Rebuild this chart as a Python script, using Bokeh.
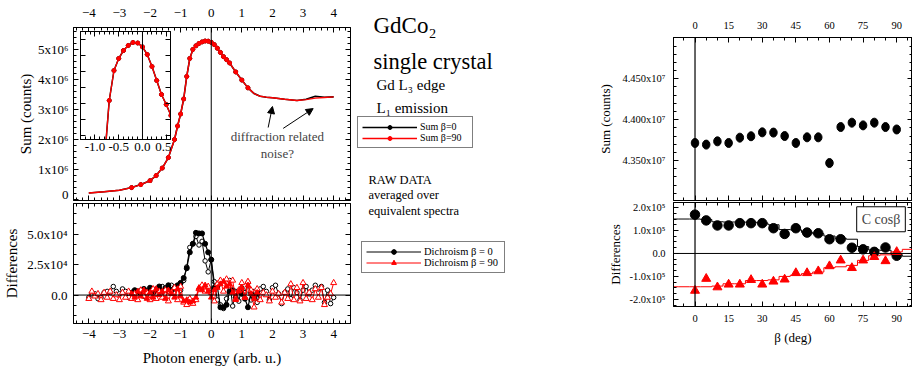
import numpy as np
from bokeh.plotting import figure
from bokeh.layouts import column, row
from bokeh.models import (Range1d, LinearAxis, FixedTicker, Span, Legend, LegendItem,
                          Label, Arrow, NormalHead, ColumnDataSource, CDSView, BooleanFilter,
                          CustomJSTickFormatter)
from bokeh.embed import file_html
from bokeh.resources import INLINE

FONT = "Liberation Serif"

# ---------------- data : left panel (sum spectra, units 1e6 counts) ----------------
energy = [-4.0, -3.5, -3.0, -2.6, -2.3, -2.0, -1.8, -1.6, -1.4, -1.2,
          -1.1, -1.0, -0.9, -0.8, -0.7, -0.6, -0.5, -0.4, -0.3, -0.2,
          -0.1, 0.0, 0.1, 0.2, 0.3, 0.4, 0.5, 0.6, 0.8, 1.0,
          1.2, 1.4, 1.6, 1.8, 2.0, 2.4, 2.8, 3.1, 3.4, 3.7, 4.0]
sum_b0 = [0.22, 0.26, 0.31, 0.40, 0.50, 0.63, 0.80, 1.05, 1.40, 2.00,
          2.45, 2.85, 3.35, 4.10, 4.70, 5.00, 5.12, 5.20, 5.25, 5.28,
          5.275, 5.236, 5.16, 5.04, 4.90, 4.76, 4.66, 4.55, 4.25, 3.98,
          3.72, 3.53, 3.44, 3.41, 3.39, 3.34, 3.30, 3.34, 3.44, 3.41, 3.42]
sum_b90 = [0.22, 0.26, 0.31, 0.40, 0.50, 0.63, 0.80, 1.05, 1.40, 2.00,
           2.45, 2.85, 3.35, 4.10, 4.70, 5.00, 5.12, 5.20, 5.25, 5.28,
           5.275, 5.236, 5.16, 5.04, 4.90, 4.76, 4.66, 4.55, 4.25, 3.98,
           3.72, 3.53, 3.44, 3.41, 3.39, 3.34, 3.30, 3.33, 3.38, 3.40, 3.42]

# ---------------- data : dichroism (units 1e4 counts) ----------------
dich_x = [-4.0, -3.9, -3.8, -3.7, -3.6, -3.5, -3.4, -3.3, -3.2, -3.1,
          -3.0, -2.9, -2.8, -2.7, -2.6, -2.5, -2.4, -2.3, -2.2, -2.1,
          -2.0, -1.9, -1.8, -1.7, -1.6, -1.5, -1.4, -1.3, -1.2, -1.1,
          -1.0, -0.9, -0.8, -0.7, -0.6, -0.5, -0.4, -0.3, -0.2, -0.1,
          0.0, 0.1, 0.2, 0.3, 0.4, 0.5, 0.6, 0.7, 0.8, 0.9,
          1.0, 1.1, 1.2, 1.3, 1.4, 1.5, 1.6, 1.7, 1.8, 1.9,
          2.0, 2.1, 2.2, 2.3, 2.4, 2.5, 2.6, 2.7, 2.8, 2.9,
          3.0, 3.1, 3.2, 3.3, 3.4, 3.5, 3.6, 3.7, 3.8, 3.9, 4.0]
dich_b0_open = [-0.2, 0.1, 0.1, -0.3, -0.2, 0.2, 0.3, 0.2, 0.7, 0.3,
                0.1, 0.5, 0.3, -0.2, 0.2, 0.3, 0.0, 0.4, -0.1, 0.3,
                0.4, 0.2, 0.5, 0.3, 0.7, 0.6, 0.3, 0.8, 0.5, 0.6,
                0.4, 1.2, 2.3, 3.9, 4.2, 4.8, 4.1, 4.4, 2.8, 1.9,
                2.9, 1.1, -0.4, -0.8, -1.1, -0.3, 1.2, -0.9, 0.3, -0.5,
                0.6, 0.2, 1.0, -0.4, 0.3, -0.6, 0.5, 0.7, 0.3, -0.4,
                0.6, 0.8, 0.1, -0.7, 0.2, 0.5, -0.3, 0.6, 0.2, -0.4,
                0.4, 0.7, 0.1, 0.4, 0.8, 0.5, 0.7, -0.6, 0.4, -0.7, -0.2]
dich_b90_open = [-0.3, 0.3, -0.1, 0.1, -0.4, 0.2, -0.2, 0.3, -0.3, 0.0,
                 -0.4, 0.2, -0.2, 0.3, -0.3, 0.1, -0.4, 0.4, -0.1, 0.2,
                 -0.4, 0.5, -0.3, 0.3, -0.2, 0.4, -0.5, 0.2, 0.6, -0.4,
                 0.7, -0.6, -0.8, -0.3, -0.7, -0.4, 0.5, 0.8, 0.3, 0.7,
                 0.2, -0.5, 0.9, 1.2, 0.3, 1.3, 0.8, 1.2, -0.3, 0.4,
                 1.0, -0.2, 1.1, 0.4, -1.0, 0.5, -0.4, 0.2, 0.0, -0.5,
                 0.3, -0.2, 0.1, -0.6, 0.2, -0.3, 0.9, -0.4, 0.6, -0.5,
                 1.0, -0.3, 0.2, -0.4, 0.5, -0.2, 0.6, -0.8, -0.2, 0.1, 1.0]
dich_x_fill = [-2.6, -2.5, -2.4, -2.3, -2.2, -2.1, -2.0, -1.9, -1.8, -1.7,
               -1.6, -1.5, -1.4, -1.3, -1.2, -1.1, -1.0, -0.9, -0.8, -0.7,
               -0.6, -0.5, -0.4, -0.3, -0.2, -0.1, 0.0, 0.1, 0.2, 0.3,
               0.4, 0.5, 0.6, 0.7, 0.8, 0.9, 1.0, 1.1, 1.2, 1.3, 1.4, 1.5]
dich_b0_fill = [0.2, 0.4, 0.3, 0.1, 0.5, 0.3, 0.6, 0.2, 0.4, 0.7,
                0.3, 0.5, 0.8, 0.4, 0.6, 0.8, 1.0, 1.4, 2.2, 3.5,
                4.2, 5.1, 5.05, 5.05, 4.2, 3.5, 2.9, 0.6, 0.7, -1.0,
                -1.0, -0.8, 0.3, 0.4, -0.2, 0.3, 0.1, -0.3, -1.0, 0.2, -0.2, 0.1]
dich_b90_fill = [0.1, -0.2, 0.3, -0.1, 0.4, -0.3, 0.2, -0.2, 0.5, 0.0,
                 0.3, -0.3, 0.4, 0.1, -0.2, 0.5, -0.1, -0.5, -0.4, -0.6,
                 -0.5, -0.2, 0.6, 0.4, 0.8, 0.3, -0.2, 0.4, 0.6, 0.9,
                 1.1, 0.7, 0.9, 0.2, -0.4, 0.3, 0.6, -0.2, 0.8, 0.1, -0.3, 0.2]

# ---------------- data : right panel ----------------
beta = [0, 5, 10, 15, 20, 25, 30, 35, 40, 45, 50, 55, 60, 65, 70, 75, 80, 85, 90]
sum_beta = [4.3715, 4.3695, 4.3735, 4.3715, 4.3780, 4.3797, 4.3845, 4.3842, 4.3800, 4.3715,
            4.3784, 4.3784, 4.3470, 4.3910, 4.3963, 4.3930, 4.3963, 4.3910, 4.3880]   # x1e7
diff_b0 = [1.69, 1.44, 1.22, 1.22, 1.32, 1.32, 1.32, 1.10, 0.85, 1.10,
           0.91, 0.88, 0.62, 0.62, 0.25, 0.18, 0.07, 0.26, -0.10]                    # x1e5
diff_b90 = [-1.62, -1.10, -1.47, -1.35, -1.35, -1.15, -1.35, -1.22, -1.13, -0.85,
            -0.85, -0.77, -0.55, -0.30, -0.63, -0.30, -0.15, -0.33, 0.07]            # x1e5
beta_fit = [-10, -5, 0, 5, 10, 15, 20, 25, 30, 35, 40, 45, 50, 55, 60, 65, 70, 75, 80, 85, 90, 95, 100]
fit_b0 = [1.50, 1.50, 1.50, 1.48, 1.38, 1.37, 1.37, 1.36, 1.33, 1.25, 1.04, 1.03,
          0.92, 0.86, 0.76, 0.66, 0.62, 0.30, 0.15, 0.14, -0.05, -0.12, -0.12]
fit_b90 = [-1.45, -1.45, -1.45, -1.45, -1.42, -1.32, -1.32, -1.18, -1.18, -1.15, -1.00, -0.95,
           -0.88, -0.81, -0.62, -0.58, -0.52, -0.30, -0.10, -0.06, 0.07, 0.18, 0.18]

# tick labels
sum_ticks = [0, 1e6, 2e6, 3e6, 4e6, 5e6]
sum_tick_labels = ["0", "1x10⁶", "2x10⁶", "3x10⁶", "4x10⁶", "5x10⁶"]
dich_ticks = [0, 2.5e4, 5e4]
dich_tick_labels = ["0.0", "2.5x10⁴", "5.0x10⁴"]
inset_ticks = [-1.0, -0.5, 0.0, 0.5]
inset_tick_labels = ["-1.0", "-0.5", "0.0", "0.5"]
rsum_ticks = [4.35e7, 4.40e7, 4.45e7]
rsum_tick_labels = ["4.350x10⁷", "4.400x10⁷", "4.450x10⁷"]
rdiff_ticks = [-2e5, -1e5, 0, 1e5, 2e5]
rdiff_tick_labels = ["-2.0x10⁵", "-1.0x10⁵", "0.0", "1.0x10⁵", "2.0x10⁵"]
beta_ticks = [0, 15, 30, 45, 60, 75, 90]

BLANK = CustomJSTickFormatter(code="return ''")


def new_fig(width, height, xr, yr, mb, bg=None, outline="black"):
    p = figure(width=width, height=height, x_range=Range1d(*xr), y_range=Range1d(*yr),
               x_axis_type=None, y_axis_type=None, output_backend="svg",
               toolbar_location=None, title=None,
               min_border_left=mb[0], min_border_right=mb[1],
               min_border_top=mb[2], min_border_bottom=mb[3])
    p.background_fill_color = bg
    p.border_fill_color = None
    p.outline_line_color = outline
    p.outline_line_width = 1
    return p


def add_axis(p, side, major, minor, size="13px", labels=None, show=True,
             title=None, standoff=6, title_standoff=5, title_size="15px"):
    ax = LinearAxis(ticker=FixedTicker(ticks=list(major), minor_ticks=[float(v) for v in minor]))
    ax.major_tick_in = 5
    ax.major_tick_out = 0
    ax.minor_tick_in = 3
    ax.minor_tick_out = 0
    ax.axis_line_color = "black"
    ax.major_tick_line_color = "black"
    ax.minor_tick_line_color = "black"
    ax.major_label_text_font = FONT
    ax.major_label_text_font_size = size
    ax.major_label_text_color = "black"
    ax.major_label_standoff = standoff
    if labels is not None:
        ax.major_label_overrides = {float(k): v for k, v in zip(major, labels)}
    if not show:
        ax.formatter = BLANK
        ax.major_label_text_color = None
        ax.major_label_text_font_size = "1px"
        ax.major_label_standoff = 0
    if title:
        ax.axis_label = title
        ax.axis_label_text_font = FONT
        ax.axis_label_text_font_size = title_size
        ax.axis_label_text_font_style = "normal"
        ax.axis_label_text_color = "black"
        ax.axis_label_standoff = title_standoff
    p.add_layout(ax, side)
    return ax


e_major = [-4, -3, -2, -1, 0, 1, 2, 3, 4]
e_minor = np.arange(-4.4, 4.55, 0.2)

# ---------------- top-left: sum spectra ----------------
sum_src = ColumnDataSource(dict(e=energy, b0=np.array(sum_b0) * 1e6, b90=np.array(sum_b90) * 1e6))
pt_mask = [(-2.7 <= v <= 1.25) for v in energy]

tl = new_fig(355, 201, (-4.5, 4.55), (-0.03e6, 5.73e6), (73, 5, 27, 1))
add_axis(tl, "above", e_major, e_minor, standoff=11)
add_axis(tl, "below", e_major, e_minor, show=False)
add_axis(tl, "left", sum_ticks, np.arange(0, 5.8e6, 0.2e6), labels=sum_tick_labels,
         title="Sum (counts)", standoff=5, title_standoff=1)
add_axis(tl, "right", sum_ticks, np.arange(0, 5.8e6, 0.2e6), show=False)
tl.add_layout(Span(location=0, dimension="height", line_color="black", line_width=1))

tl.line("e", "b0", source=sum_src, line_color="black", line_width=1.6)
tl.scatter("e", "b0", source=sum_src, view=CDSView(filter=BooleanFilter(pt_mask)),
           size=4, color="black")
tl.line("e", "b90", source=sum_src, line_color="red", line_width=1.4)
tl.scatter("e", "b90", source=sum_src, view=CDSView(filter=BooleanFilter(pt_mask)),
           size=4, color="red")

tl.add_layout(Label(x=2.16, y=2.1e6, text="diffraction related", text_align="center",
                    text_baseline="middle", text_font=FONT, text_font_size="13px"))
tl.add_layout(Label(x=2.16, y=1.53e6, text="noise?", text_align="center",
                    text_baseline="middle", text_font=FONT, text_font_size="13px"))
tl.add_layout(Arrow(end=NormalHead(size=7, fill_color="black", line_color="black"),
                    x_start=1.86, y_start=2.4e6, x_end=2.0, y_end=3.1e6, line_width=1))
tl.add_layout(Arrow(end=NormalHead(size=7, fill_color="black", line_color="black"),
                    x_start=2.35, y_start=2.37e6, x_end=3.33, y_end=3.03e6, line_width=1))

# ---------------- inset ----------------
ins = new_fig(92, 127, (-1.305, 0.59), (4.31e6, 5.39e6), (1, 1, 1, 18), bg="white")
ins.frame_align = False
ins.styles = {"position": "absolute", "left": "79px", "top": "30px",
              "width": "92px", "height": "127px"}
ins_minor = np.arange(-1.3, 0.6, 0.1)
add_axis(ins, "below", inset_ticks, ins_minor, labels=inset_tick_labels, standoff=3)
add_axis(ins, "above", inset_ticks, ins_minor, show=False)
iy = np.arange(4.35e6, 5.39e6, 1.6e5)
add_axis(ins, "left", iy, [], show=False)
add_axis(ins, "right", iy, [], show=False)
ins.add_layout(Span(location=0, dimension="height", line_color="black", line_width=1))
ins.line("e", "b0", source=sum_src, line_color="black", line_width=1.5)
ins.scatter("e", "b0", source=sum_src, size=4, color="black")
ins.line("e", "b90", source=sum_src, line_color="red", line_width=1.3)
ins.scatter("e", "b90", source=sum_src, size=4, color="red")

# ---------------- bottom-left: dichroism ----------------
open_src = ColumnDataSource(dict(x=dich_x, b0=np.array(dich_b0_open) * 1e4,
                                 b90=np.array(dich_b90_open) * 1e4))
fill_src = ColumnDataSource(dict(x=dich_x_fill, b0=np.array(dich_b0_fill) * 1e4,
                                 b90=np.array(dich_b90_fill) * 1e4))

bl = new_fig(355, 168, (-4.5, 4.55), (-2.33e4, 7.5e4), (73, 5, 2, 46))
add_axis(bl, "below", e_major, e_minor, standoff=6, title="Photon energy (arb. u.)", title_standoff=9)
add_axis(bl, "above", e_major, e_minor, show=False)
d_minor = np.arange(-2.5e4, 7.6e4, 2.5e4 / 3)
add_axis(bl, "left", dich_ticks, d_minor, labels=dich_tick_labels, title="Differences",
         standoff=6, title_standoff=4)
add_axis(bl, "right", dich_ticks, d_minor, show=False)
bl.add_layout(Span(location=0, dimension="height", line_color="black", line_width=1))
bl.add_layout(Span(location=0, dimension="width", line_color="black", line_width=1))

OPEN_C = dict(marker="circle", size=4.5, fill_color="white", line_color="black", line_width=1)
FILL_C = dict(marker="circle", size=5, color="black")
OPEN_T = dict(marker="triangle", size=6, fill_color="white", line_color="red", line_width=1)
FILL_T = dict(marker="triangle", size=5.5, color="red")

bl.line("x", "b0", source=open_src, line_color="black", line_width=1)
bl.scatter("x", "b0", source=open_src, **OPEN_C)
bl.line("x", "b0", source=fill_src, line_color="black", line_width=1.2)
bl.scatter("x", "b0", source=fill_src, **FILL_C)
bl.line("x", "b90", source=open_src, line_color="red", line_width=1)
bl.scatter("x", "b90", source=open_src, **OPEN_T)
bl.line("x", "b90", source=fill_src, line_color="red", line_width=1.2)
bl.scatter("x", "b90", source=fill_src, **FILL_T)

# ---------------- middle: annotations and legends ----------------
info = new_fig(230, 369, (0, 230), (369, 0), (0, 0, 0, 0), outline=None)
for (tx, ty, txt, fs) in [(18, 25, "GdCo₂", "23px"),
                          (18, 61, "single crystal", "22.5px"),
                          (21, 84, "Gd L₃ edge", "15px"),
                          (21, 107, "L₁ emission", "15px"),
                          (13, 179, "RAW DATA", "12.5px"),
                          (13, 194, "averaged over", "12.5px"),
                          (13, 210, "equivalent spectra", "12.5px")]:
    info.add_layout(Label(x=tx, y=ty, text=txt, text_font=FONT, text_font_size=fs,
                          text_baseline="alphabetic", text_align="left", text_color="black"))

# hidden copies of the series, used only to draw the legend keys
k0l = info.line("e", "b0", source=sum_src, line_color="black", line_width=1.6, visible=False)
k0s = info.scatter("e", "b0", source=sum_src, size=4, color="black", visible=False)
k9l = info.line("e", "b90", source=sum_src, line_color="red", line_width=1.4, visible=False)
k9s = info.scatter("e", "b90", source=sum_src, size=4, color="red", visible=False)
leg1 = Legend(items=[LegendItem(label="Sum β=0", renderers=[k0l, k0s]),
                     LegendItem(label="Sum β=90", renderers=[k9l, k9s])],
              location=(2, 221), glyph_width=55, glyph_height=10, label_height=10,
              label_width=48, label_standoff=3, padding=4, spacing=0, margin=0,
              border_line_color="black", border_line_width=1, background_fill_color="white",
              label_text_font=FONT, label_text_font_size="10px", label_text_color="black",
              inactive_fill_alpha=0)
info.add_layout(leg1)

m0l = info.line("x", "b0", source=open_src, line_color="black", line_width=1, visible=False)
m0a = info.scatter("x", "b0", source=open_src, visible=False, **OPEN_C)
m0b = info.scatter("x", "b0", source=fill_src, visible=False, **FILL_C)
m9l = info.line("x", "b90", source=open_src, line_color="red", line_width=1, visible=False)
m9a = info.scatter("x", "b90", source=open_src, visible=False, **OPEN_T)
m9b = info.scatter("x", "b90", source=fill_src, visible=False, **FILL_T)
leg2 = Legend(items=[LegendItem(label="Dichroism β = 0", renderers=[m0l, m0a, m0b]),
                     LegendItem(label="Dichroism β = 90", renderers=[m9l, m9a, m9b])],
              location=(6, 96), glyph_width=55, glyph_height=11, label_height=11,
              label_width=76, label_standoff=3, padding=4, spacing=0, margin=0,
              border_line_color="black", border_line_width=1, background_fill_color="white",
              label_text_font=FONT, label_text_font_size="10.5px", label_text_color="black",
              inactive_fill_alpha=0)
info.add_layout(leg2)

# ---------------- top-right: sum vs beta ----------------
b_minor = np.arange(-5, 101, 5)
tr = new_fig(327, 201, (-9.6, 97.05), (4.3012e7, 4.5004e7), (88, 0, 37, 1))
add_axis(tr, "above", beta_ticks, b_minor, size="10.5px", standoff=9)
add_axis(tr, "below", beta_ticks, b_minor, show=False)
rs_minor = np.arange(4.30e7, 4.501e7, 1e5)
add_axis(tr, "left", rsum_ticks, rs_minor, size="10.5px", labels=rsum_tick_labels,
         title="Sum (counts)", title_size="13px", standoff=8, title_standoff=6)
add_axis(tr, "right", rsum_ticks, rs_minor, show=False)
tr.add_layout(Span(location=0, dimension="height", line_color="black", line_width=1.2))
rsum_src = ColumnDataSource(dict(b=beta, s=np.array(sum_beta) * 1e7))
tr.ellipse("b", "s", source=rsum_src, width=7.5, height=9, width_units="screen",
           height_units="screen", fill_color="black", line_color="black")

# ---------------- bottom-right: differences vs beta ----------------
br = new_fig(327, 168, (-9.6, 97.05), (-2.31e5, 2.22e5), (88, 0, 1, 63))
add_axis(br, "below", beta_ticks, b_minor, size="10.5px", standoff=8,
         title="β (deg)", title_size="13px", title_standoff=5)
add_axis(br, "above", beta_ticks, b_minor, show=False)
rd_minor = np.arange(-2.25e5, 2.26e5, 2.5e4)
add_axis(br, "left", rdiff_ticks, rd_minor, size="10.5px", labels=rdiff_tick_labels,
         title="Differences", title_size="13px", standoff=8, title_standoff=3)
add_axis(br, "right", rdiff_ticks, rd_minor, show=False)
br.add_layout(Span(location=0, dimension="height", line_color="black", line_width=1.2))
br.add_layout(Span(location=0, dimension="width", line_color="black", line_width=1))
fit_src = ColumnDataSource(dict(b=beta_fit, f0=np.array(fit_b0) * 1e5, f90=np.array(fit_b90) * 1e5))
rd_src = ColumnDataSource(dict(b=beta, d0=np.array(diff_b0) * 1e5, d90=np.array(diff_b90) * 1e5))
br.step("b", "f0", source=fit_src, mode="center", line_color="black", line_width=1)
br.step("b", "f90", source=fit_src, mode="center", line_color="red", line_width=1)
br.scatter("b", "d0", source=rd_src, marker="circle", size=9.5, color="black")
br.scatter("b", "d90", source=rd_src, marker="triangle", size=9, color="red")
br.add_layout(Label(x=83, y=1.49e5, text="C cosβ", text_align="center", text_baseline="middle",
                    text_font=FONT, text_font_size="14px", border_line_color="black",
                    border_line_width=1, background_fill_color="white", padding=5))

left_col = column(tl, bl, ins, width=355, height=369, spacing=0,
                  styles={"position": "relative"})
right_col = column(tr, br, width=327, height=369, spacing=0)
root = row(left_col, info, right_col, width=912, height=369, spacing=0)

with open("out.html", "w") as f:
    f.write(file_html(root, INLINE, title="GdCo2"))
